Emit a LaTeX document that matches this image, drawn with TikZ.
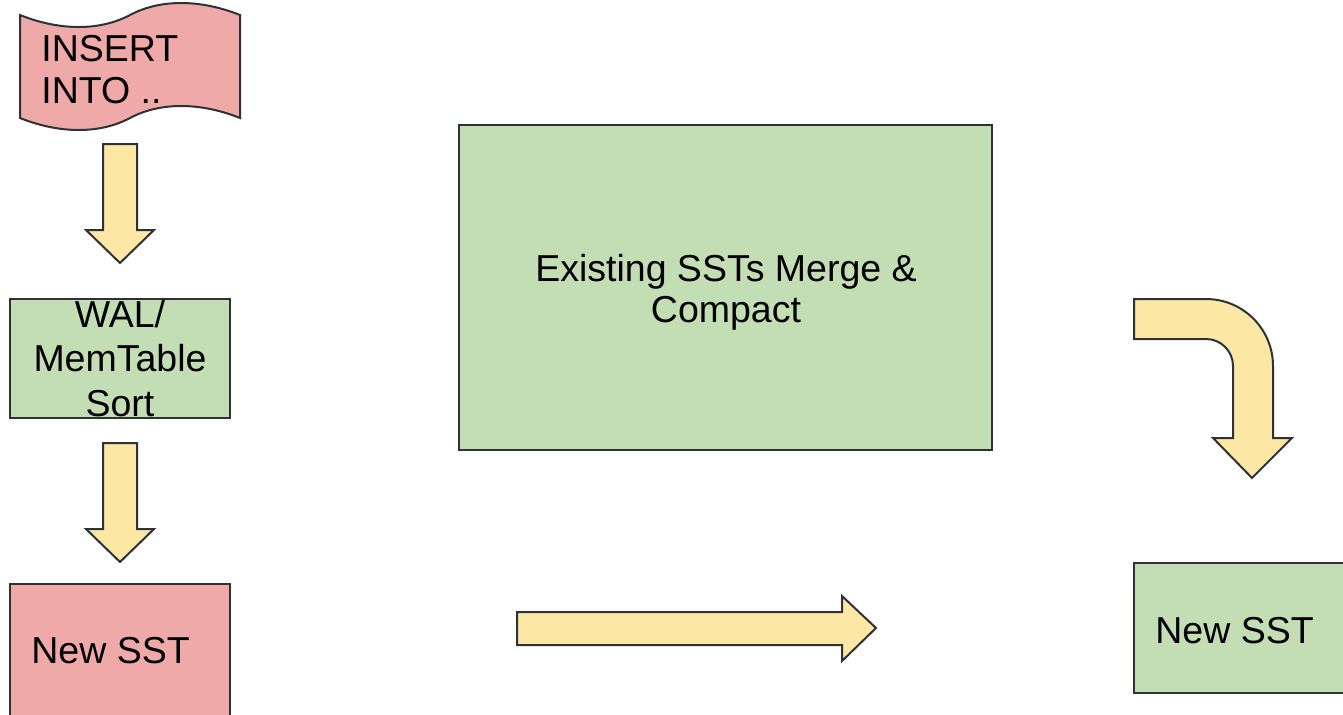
\documentclass[tikz,border=0pt]{standalone}
\usepackage{fontspec}
\setmainfont{Liberation Sans}
\usepackage{tikz}
\definecolor{clr}{HTML}{EFA9A8}
\definecolor{clgn}{HTML}{C3DDB4}
\definecolor{cly}{HTML}{FDE7A5}
\definecolor{cle}{HTML}{2E3236}
\tikzset{blk/.style={draw=cle, line width=1pt, line join=miter},
    lbl/.style={inner sep=0pt, font=\fontsize{18.75}{21}\selectfont}}

\begin{document}
\begin{tikzpicture}[x=.5pt, y=-.5pt]
    \useasboundingbox(0, 0) rectangle(1343, 714);
    \draw[blk, fill=clr](20, 15)..controls(60, 31)and(100, 31)..(130, 15)..controls(160, -1)and(200, -1)..(240, 15)--(240, 118)..controls(200, 102)and(160, 102)..(130, 118)..controls(100, 134)and(60, 134)..(20, 118)--cycle;
    \node[lbl, anchor=base west, align=left](ins)at(41, 103){INSERT\\INTO ..};	%tape
    \foreach \y in {144, 443}
        \draw[blk, fill=cly](103, \y)--(137, \y)--(137, \y+86)--(154, \y+86)--(120, \y+119)--(86, \y+86)--(103, \y+86)--cycle;
    \draw[blk, fill=clgn](10, 299) rectangle(230, 418);
    \node[lbl, anchor=base, align=center, font=\fontsize{18.75}{22.25}\selectfont](wal)at(120, 416){WAL/\\MemTable\\Sort};	%wal
    \draw[blk, fill=clr](10, 584) rectangle(230, 730);
    \node[lbl, anchor=base west](sst)at(31, 663){New SST};
    \draw[blk, fill=clgn](459, 125) rectangle(992, 450);
    \node[lbl, anchor=base, align=center, font=\fontsize{18.75}{20.25}\selectfont](mrg)at(726, 322){Existing SSTs Merge \&\\Compact};	%merge
    \draw[blk, fill=cly](517, 612)--(842, 612)--(842, 596)--(876, 628)--(842, 661)--(842, 645)--(517, 645)--cycle;
    \draw[blk, fill=cly](1134, 299)--(1206, 299)arc[start angle=-90, end angle=0, radius=67]--(1273, 438)--(1292, 438)--(1252, 478)--(1213, 438)--(1233, 438)--(1233, 366)arc[start angle=0, end angle=-90, radius=27]--(1134, 339)--cycle;
    \draw[blk, fill=clgn](1134, 563) rectangle(1360, 693);
    \node[lbl, anchor=base west](nsst)at(1155, 643){New SST};
\end{tikzpicture}
\end{document}
